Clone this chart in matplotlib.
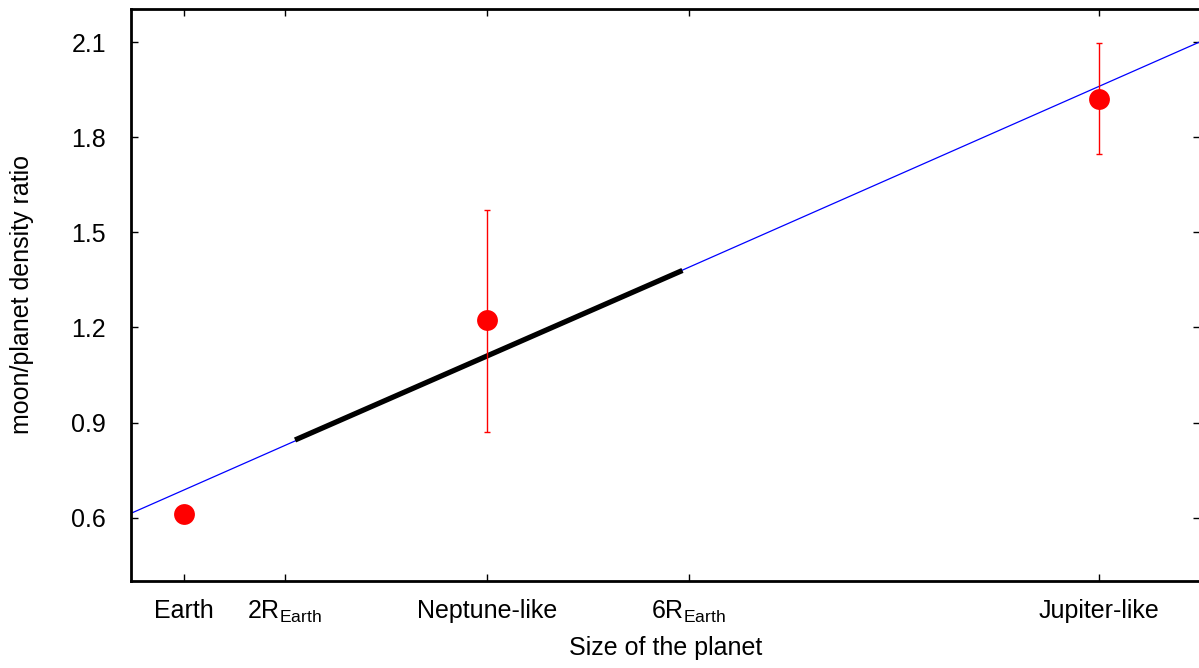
import numpy as np
import matplotlib
matplotlib.use('Agg')
import matplotlib.pyplot as plt

plt.rcParams['font.family'] = ['Liberation Sans', 'DejaVu Sans']
plt.rcParams['mathtext.default'] = 'regular'

# --- data ---
planet_x = [1, 4, 10.07]
ratio = [0.61, 1.223, 1.92]
err_low = [0.0, 0.353, 0.174]
err_high = [0.0, 0.349, 0.178]

fit_x = [0.47, 11.06]
fit_y = [0.613, 2.10]

range_x = [2.1, 5.94]
range_y = [0.845, 1.38]

xtick_pos = [1, 2, 4, 6, 10.07]
xtick_labels = ['Earth', '2R$_{Earth}$', 'Neptune-like', '6R$_{Earth}$', 'Jupiter-like']
ytick_pos = [0.6, 0.9, 1.2, 1.5, 1.8, 2.1]

fig = plt.figure(figsize=(11.99, 6.68), dpi=100)
ax = fig.add_axes([131 / 1199, 1 - 581 / 668, (1200 - 131) / 1199, (581 - 9) / 668])

ax.plot(fit_x, fit_y, color='blue', linewidth=0.9)
ax.plot(range_x, range_y, color='black', linewidth=3.8, solid_capstyle='butt')

# error bars only where there is an uncertainty
has_err = [i for i in range(len(planet_x)) if err_low[i] > 0]
ax.errorbar([planet_x[i] for i in has_err], [ratio[i] for i in has_err],
            yerr=[[err_low[i] for i in has_err], [err_high[i] for i in has_err]],
            fmt='none', ecolor='red', elinewidth=1.0, capsize=2.5, capthick=1.0)
ax.plot(planet_x, ratio, 'o', color='red', markersize=15, markeredgewidth=0)

ax.set_xlim(0.474, 11.07)
ax.set_ylim(0.4, 2.205)

ax.set_xticks(xtick_pos)
ax.set_xticklabels(xtick_labels)
ax.set_yticks(ytick_pos)
ax.set_yticklabels([f'{v:.1f}' for v in ytick_pos])

ax.tick_params(direction='in', length=5, width=1, labelsize=18,
               top=True, right=True)
ax.tick_params(axis='x', pad=13)
ax.tick_params(axis='y', pad=18)
for s in ax.spines.values():
    s.set_linewidth(2)

ax.set_xlabel('Size of the planet', fontsize=18, labelpad=8)
ax.set_ylabel('moon/planet density ratio', fontsize=18, labelpad=27)

fig.savefig('out.png', dpi=100)
